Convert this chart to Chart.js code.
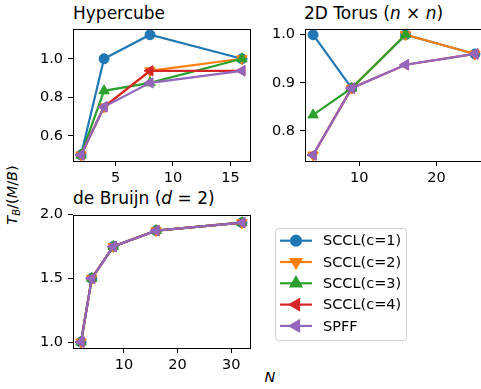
<!DOCTYPE html>
<html>
<head>
<meta charset="utf-8">
<script src="https://cdn.jsdelivr.net/npm/chart.js@4/dist/chart.umd.min.js"></script>
<style>
  html, body { margin: 0; padding: 0; background: #fff; overflow: hidden; }
  body { width: 481px; height: 389px; position: relative; font-family: 'DejaVu Sans', sans-serif; color: #000; }
  canvas { position: absolute; }
  .title { position: absolute; font-size: 17px; line-height: 17px; white-space: nowrap; }
  .label { position: absolute; font-size: 14.5px; line-height: 14.5px; white-space: nowrap; }
  sub { font-size: 70%; vertical-align: -0.25em; }
</style>
</head>
<body>
<div class="title" style="left:73px; top:5px;">Hypercube</div>
<div class="title" style="left:304px; top:5px;">2D Torus (<i>n</i> × <i>n</i>)</div>
<div class="title" style="left:73px; top:190px;">de Bruijn (<i>d</i> = 2)</div>
<div class="label" style="left:15px; top:195px; transform: translate(-50%,-50%) rotate(-90deg);"><i>T</i><sub><i>B</i></sub>/(<i>M</i>/<i>B</i>)</div>
<div class="label" style="left:270px; top:377px; transform: translate(-50%,-50%);"><i>N</i></div>

<canvas id="hypercube" width="247" height="186" style="left:13px; top:15px;"></canvas>
<canvas id="torus" width="248" height="186" style="left:245px; top:15px;"></canvas>
<canvas id="debruijn" width="247" height="187" style="left:13px; top:201px;"></canvas>
<canvas id="legend" width="150" height="130" style="left:270px; top:220px;"></canvas>

<script>
// series
const seriesNames = ['SCCL(c=1)', 'SCCL(c=2)', 'SCCL(c=3)', 'SCCL(c=4)', 'SPFF'];
const seriesColors = ['#1f77b4', '#ff7f0e', '#2ca02c', '#d62728', '#9467bd'];

// Hypercube
const hypercubeN = [2, 4, 8, 16];
const hypercubeC1 = [0.5, 1.0, 1.125, 1.0];
const hypercubeC2 = [0.5, 0.75, 0.9375, 1.0];
const hypercubeC3 = [0.5, 0.8333, 0.875, 1.0];
const hypercubeC4 = [0.5, 0.75, 0.9375, 0.9375];
const hypercubeSPFF = [0.5, 0.75, 0.875, 0.9375];

// 2D Torus
const torusN = [4, 9, 16, 25];
const torusC1 = [1.0, 0.8889, 1.0, 0.96];
const torusC2 = [0.75, 0.8889, 1.0, 0.96];
const torusC3 = [0.8333, 0.8889, 1.0, null];
const torusC4 = [0.75, 0.8889, 0.9375, 0.96];
const torusSPFF = [0.75, 0.8889, 0.9375, 0.96];

// de Bruijn
const debruijnN = [2, 4, 8, 16, 32];
const debruijnC1 = [1.0, 1.5, 1.75, 1.875, 1.9375];
const debruijnC2 = [1.0, 1.5, 1.75, 1.875, 1.9375];
const debruijnC3 = [1.0, 1.5, 1.75, 1.875, 1.9375];
const debruijnC4 = [1.0, 1.5, 1.75, 1.875, 1.9375];
const debruijnSPFF = [1.0, 1.5, 1.75, 1.875, 1.9375];

// tick labels
const hypercubeXTicks = [5, 10, 15];
const hypercubeYTicks = [0.6, 0.8, 1.0];
const torusXTicks = [10, 20];
const torusYTicks = [0.8, 0.9, 1.0];
const debruijnXTicks = [10, 20, 30];
const debruijnYTicks = [1.0, 1.5, 2.0];

// marker style per series: [pointStyle, rotation]
const markers = [['circle', 0], ['triangle', 180], ['triangle', 0], ['triangle', 270], ['triangle', 270]];

const FONT = { family: "'DejaVu Sans', sans-serif", size: 14.5 };

// matplotlib draws all four spines
const frame = {
    id: 'frame',
    afterDraw(chart) {
        const a = chart.chartArea;
        const c = chart.ctx;
        c.save();
        c.strokeStyle = '#000';
        c.lineWidth = 1;
        c.strokeRect(Math.round(a.left) + 0.5, Math.round(a.top) + 0.5,
            Math.round(a.right - a.left), Math.round(a.bottom - a.top));
        c.restore();
    }
};

function markerSize(style) {
    return style === 'circle' ? 5 : 6;
}

function makePanel(id, xs, series, xMin, xMax, xTicks, yMin, yMax, yTicks) {
    const datasets = series.map((ys, i) => ({
        label: seriesNames[i],
        data: xs.map((x, j) => ({ x: x, y: ys[j] })),
        borderColor: seriesColors[i],
        backgroundColor: seriesColors[i],
        pointStyle: markers[i][0],
        rotation: markers[i][1],
        pointRadius: markerSize(markers[i][0]),
        pointBorderWidth: 1,
        borderWidth: 2.2,
        order: series.length - i
    }));

    return new Chart(document.getElementById(id), {
        type: 'line',
        data: { datasets: datasets },
        options: {
            responsive: false,
            animation: false,
            devicePixelRatio: 1,
            layout: { padding: { top: 10, right: 10, left: 0, bottom: 0 } },
            plugins: { legend: { display: false }, tooltip: { enabled: false } },
            scales: {
                x: {
                    type: 'linear',
                    min: xMin,
                    max: xMax,
                    afterBuildTicks: s => { s.ticks = xTicks.map(v => ({ value: v })); },
                    afterFit: s => { s.height = 40; },
                    grid: { drawOnChartArea: false, tickLength: 5, tickColor: '#000' },
                    border: { display: false },
                    ticks: { padding: 4, color: '#000', font: FONT, maxRotation: 0 }
                },
                y: {
                    type: 'linear',
                    min: yMin,
                    max: yMax,
                    afterBuildTicks: s => { s.ticks = yTicks.map(v => ({ value: v })); },
                    afterFit: s => { s.width = 60; },
                    grid: { drawOnChartArea: false, tickLength: 5, tickColor: '#000' },
                    border: { display: false },
                    ticks: { padding: 5, color: '#000', font: FONT, callback: v => v.toFixed(1) }
                }
            }
        },
        plugins: [frame]
    });
}

makePanel('hypercube', hypercubeN,
    [hypercubeC1, hypercubeC2, hypercubeC3, hypercubeC4, hypercubeSPFF],
    1.3, 16.7, hypercubeXTicks, 0.46875, 1.15625, hypercubeYTicks);

makePanel('torus', torusN,
    [torusC1, torusC2, torusC3, torusC4, torusSPFF],
    2.95, 26.05, torusXTicks, 0.7375, 1.0125, torusYTicks);

makePanel('debruijn', debruijnN,
    [debruijnC1, debruijnC2, debruijnC3, debruijnC4, debruijnSPFF],
    0.5, 33.5, debruijnXTicks, 0.953, 2.0, debruijnYTicks);

// legend box
(function drawLegend() {
    const c = document.getElementById('legend').getContext('2d');
    const x0 = 5.5, y0 = 8.5, w = 131, h = 112;
    c.fillStyle = '#fff';
    c.strokeStyle = '#d0d0d0';
    c.lineWidth = 1;
    c.beginPath();
    c.roundRect(x0, y0, w, h, 3);
    c.fill();
    c.stroke();

    c.font = "14.5px 'DejaVu Sans', sans-serif";
    c.textBaseline = 'middle';
    seriesNames.forEach((name, i) => {
        const y = 20.7 + i * 21.3;
        c.strokeStyle = seriesColors[i];
        c.lineWidth = 2.2;
        c.beginPath();
        c.moveTo(10, y);
        c.lineTo(42, y);
        c.stroke();
        c.fillStyle = seriesColors[i];
        Chart.helpers.drawPoint(c, {
            pointStyle: markers[i][0],
            rotation: markers[i][1],
            radius: markerSize(markers[i][0]),
            borderWidth: 1
        }, 26, y);
        c.fillStyle = '#000';
        c.fillText(name, 53, y + 1);
    });
})();
</script>
</body>
</html>
